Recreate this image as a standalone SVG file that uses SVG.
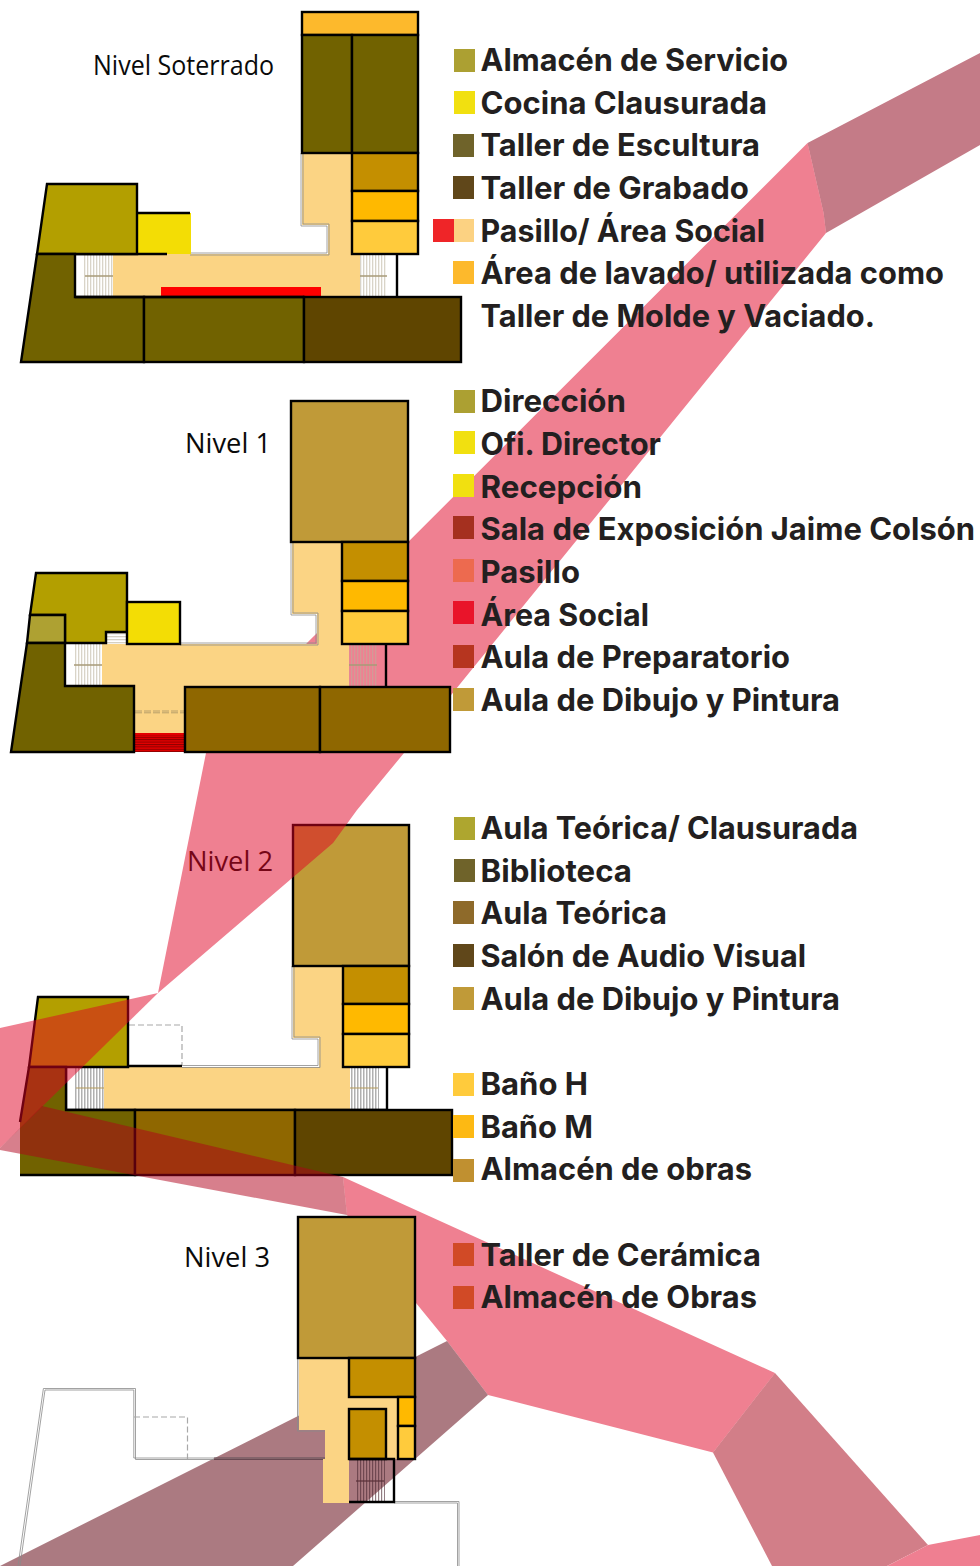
<svg xmlns="http://www.w3.org/2000/svg" width="980" height="1566" viewBox="0 0 980 1566">
<style>
.r{stroke:#000;stroke-width:2.4;stroke-linejoin:miter}
.l{fill:none;stroke:#000;stroke-width:2.4}
.oy{fill:#b39f00}.ol{fill:#716200}.dk{fill:#5f4500}.br{fill:#8f6700}.go{fill:#c09a38}
.a1{fill:#c48f00}.a2{fill:#ffb900}.a3{fill:#ffcb3c}.ye{fill:#f3dd05}.co{fill:#fbd484}.wa{fill:#fdb92c}
.pale{fill:none;stroke:#8a8a8a;stroke-width:.8}
.dash{fill:none;stroke:#a8a8a8;stroke-width:1.2;stroke-dasharray:6 3}
.lv{font-family:"Open Sans","Liberation Sans",sans-serif;font-size:28px;fill:#0a0a0a}
.t{font-family:Inter,"Liberation Sans",sans-serif;font-weight:700;font-size:31px;fill:#231f20}
.mid{stroke:#a89a78;stroke-width:1.4;fill:none}
</style>
<defs>
<pattern id="st" width="3" height="6" patternUnits="userSpaceOnUse"><rect width="1.3" height="6" fill="#b9b09a" fill-opacity=".55"/></pattern>
<pattern id="sg" width="3" height="6" patternUnits="userSpaceOnUse"><rect width="1.5" height="6" fill="#8f8f8f" fill-opacity=".7"/></pattern>
<pattern id="sd" width="3" height="6" patternUnits="userSpaceOnUse"><rect width="1.2" height="6" fill="#4a2630" fill-opacity=".6"/></pattern>
<pattern id="sh" width="6" height="3" patternUnits="userSpaceOnUse"><rect width="6" height="1.3" fill="#b9b09a" fill-opacity=".6"/></pattern>
<pattern id="sr" width="6" height="2.4" patternUnits="userSpaceOnUse"><rect width="6" height="1" fill="#8a0000"/></pattern>
</defs>
<rect width="980" height="1566" fill="#fff"/>

<g id="nivel-2">
<path class="co" d="M293,966V1038H319V1067H104V1109H350V1067H343V966Z"/>
<path class="pale" d="M292,966V1039H318V1065.500H182M294,966V1037H320V1067.500H182"/>
<rect x="75" y="1067" width="29" height="42" fill="url(#sg)"/>
<rect x="350" y="1067" width="29" height="42" fill="url(#sg)"/>
<path d="M76,1088H104M350,1088H378" stroke="#b39a5a" stroke-width="1.2" fill="none"/>
<path class="dash" d="M129,1025H182V1066"/>
<rect class="go r" x="293" y="825" width="116" height="141"/>
<rect class="a1 r" x="343" y="966" width="66" height="38"/>
<rect class="a2 r" x="343" y="1004" width="66" height="30"/>
<rect class="a3 r" x="343" y="1034" width="66" height="33"/>
<path class="oy r" d="M38,997H128V1067H29Z"/>
<path class="l" d="M128,1066H182M66,1067V1110H387M387,1067V1110"/>
<path class="ol" d="M29,1067H66V1110H135V1175H20V1120Z"/>
<path class="l" d="M20,1122L29,1067H66V1110H135V1175H20"/>
<rect class="br r" x="135" y="1110" width="160" height="65"/>
<rect class="dk r" x="295" y="1110" width="157" height="65"/>
<text class="lv" x="187" y="871" textLength="86" lengthAdjust="spacingAndGlyphs">Nivel 2</text>
</g>

<g id="cinta">
<path fill="#c47b87" d="M980,53L807.500,143L823.600,213L826,233L980,145Z"/>
<path fill="#d27e88" d="M775,1373L928,1545L887,1566H772L713,1452.500Z"/>
<path fill="#ef7f91" d="M928,1545L980,1535V1566H887Z"/>
<g fill="#df0123" fill-opacity=".5">
<path d="M807.500,143L823.600,213L826,233L404,753L357,810L333,843L158,993L206,753L307,643Z"/>
<path d="M158,993L0,1028V1148Z"/>
<path d="M343,1177L775,1373L713,1452.500L488,1395L447,1341L416,1303L347,1215Z"/>
</g>
<path fill="#af0019" fill-opacity=".5" d="M0,1148L42,1106L343,1177L347,1215L0,1150Z"/>
<path fill="#88414c" fill-opacity=".7" d="M447,1341L488,1395L293,1566H0L300,1415Z"/>
</g>

<g id="nivel-soterrado">
<path class="co" d="M302,153V225H328V254H113V296H360V254H352V153Z"/>
<path class="pale" d="M301,153V226H327V253H190M303,153V224H329V255H190" stroke="#b8a888"/>
<rect x="84" y="254" width="29" height="42" fill="url(#st)"/>
<rect x="360" y="254" width="27" height="42" fill="url(#st)"/>
<path class="mid" d="M85,276H113M360,276H387"/>
<rect x="161" y="287" width="160" height="9" fill="#f00"/>
<rect class="wa r" x="302" y="12" width="116" height="23"/>
<rect class="ol r" x="302" y="35" width="50" height="118"/>
<rect class="ol r" x="352" y="35" width="66" height="118"/>
<rect class="a1 r" x="352" y="153" width="66" height="38"/>
<rect class="a2 r" x="352" y="191" width="66" height="30"/>
<rect class="a3 r" x="352" y="221" width="66" height="33"/>
<rect class="ye" x="138" y="213" width="53" height="41"/>
<path class="l" d="M137,213H190M75,254H167"/>
<path class="oy r" d="M47,184H137V254H37Z"/>
<path class="ol r" d="M37,254H75V297H144V362H21Z"/>
<rect class="ol r" x="144" y="297" width="160" height="65"/>
<rect class="dk r" x="304" y="297" width="157" height="65"/>
<path class="l" d="M75,297H304M397,254V297"/>
<text class="lv" x="93" y="75" textLength="181" lengthAdjust="spacingAndGlyphs">Nivel Soterrado</text>
</g>

<g id="nivel-1">
<path class="co" d="M292,542V614H317V644H102V686H134V752H185V686H349V644H342V542Z"/>
<path class="pale" d="M291,542V615H316V643H180M293,542V613H318V645H180" stroke="#b8a888"/>
<rect x="74" y="644" width="28" height="42" fill="url(#st)"/>
<rect x="349" y="644" width="29" height="42" fill="url(#st)"/>
<rect x="107" y="632" width="19" height="12" fill="url(#sh)"/>
<path class="mid" d="M74,665H102M349,665H377"/>
<path d="M135,711H185M135,712.800H185" stroke="#b09a68" stroke-width=".9" stroke-dasharray="7 2" fill="none"/>
<rect x="135" y="733" width="50" height="19" fill="#e40000"/>
<rect x="135" y="735" width="50" height="17" fill="url(#sr)"/>
<rect class="go r" x="291" y="401" width="117" height="141"/>
<rect class="a1 r" x="342" y="542" width="66" height="39"/>
<rect class="a2 r" x="342" y="581" width="66" height="30"/>
<rect class="a3 r" x="342" y="611" width="66" height="33"/>
<path class="oy r" d="M36,573H127V632H106V643H65V615H30Z"/>
<path class="r" fill="#aea132" d="M30,615H65V643H27Z"/>
<rect class="ye r" x="127" y="602" width="53" height="42"/>
<path class="ol r" d="M27,643H65V686H134V752H11Z"/>
<rect class="br r" x="185" y="687" width="135" height="65"/>
<rect class="br r" x="320" y="687" width="130" height="65"/>
<path class="l" d="M386,644V687"/>
<text class="lv" x="185" y="453" textLength="86" lengthAdjust="spacingAndGlyphs">Nivel 1</text>
</g>

<g id="nivel-3">
<path class="pale" d="M18,1566L43.400,1388.500H135.500V1459.500H325M20,1566L45,1390H133.800V1458H325"/>
<path d="M214,1458H325M214,1459.500H325" fill="none" stroke="#5e3a44" stroke-width=".8"/>
<path class="dash" d="M134,1417H187.500V1459"/>
<path class="pale" d="M394,1501.500H459V1566M394,1503H457.500V1566"/>
<path class="pale" d="M297.500,1358V1431H325.500V1459.500M299,1358V1429.500H326.500V1459" stroke="#777"/>
<path class="co" d="M299,1358V1430H325V1459H323V1503H349V1459H397V1397H349V1358Z"/>
<rect x="356" y="1459" width="29" height="43" fill="url(#sd)"/>
<path d="M356,1481H384" stroke="#5a3038" stroke-width="1.2" fill="none"/>
<rect class="go r" x="298" y="1217" width="117" height="141"/>
<rect class="a1 r" x="349" y="1358" width="66" height="39"/>
<rect class="a1 r" x="349" y="1409" width="37" height="50"/>
<rect class="a2 r" x="398" y="1397" width="17" height="29"/>
<rect class="a3 r" x="398" y="1426" width="17" height="33"/>
<path class="l" d="M349,1459H394V1502H349"/>
<text class="lv" x="184" y="1267" textLength="86" lengthAdjust="spacingAndGlyphs">Nivel 3</text>
</g>

<g id="leyenda">
<rect x="454" y="49" width="21" height="23" fill="#aca032"/>
<rect x="454" y="91" width="21" height="23" fill="#f1e010"/>
<rect x="453" y="134" width="21" height="23" fill="#6f632a"/>
<rect x="453" y="176" width="21" height="23" fill="#60471a"/>
<rect x="433" y="219" width="21" height="23" fill="#ef2528"/>
<rect x="454" y="219" width="20" height="23" fill="#fcd282"/>
<rect x="453" y="261" width="21" height="23" fill="#fdb92c"/>
<text class="t" x="480.500" y="71" textLength="307.500" lengthAdjust="spacingAndGlyphs">Almacén de Servicio</text>
<text class="t" x="480.500" y="114" textLength="286.500" lengthAdjust="spacingAndGlyphs">Cocina Clausurada</text>
<text class="t" x="480.500" y="156" textLength="279.500" lengthAdjust="spacingAndGlyphs">Taller de Escultura</text>
<text class="t" x="480.500" y="199" textLength="268.500" lengthAdjust="spacingAndGlyphs">Taller de Grabado</text>
<text class="t" x="480.500" y="242" textLength="284.500" lengthAdjust="spacingAndGlyphs">Pasillo/ Área Social</text>
<text class="t" x="480.500" y="284" textLength="463.500" lengthAdjust="spacingAndGlyphs">Área de lavado/ utilizada como</text>
<text class="t" x="480.500" y="327" textLength="394.500" lengthAdjust="spacingAndGlyphs">Taller de Molde y Vaciado.</text>

<rect x="454" y="390" width="21" height="23" fill="#aca032"/>
<rect x="454" y="431" width="21" height="23" fill="#f1e010"/>
<rect x="453" y="474" width="21" height="23" fill="#f1e010"/>
<rect x="453" y="516" width="21" height="23" fill="#a5301f"/>
<rect x="453" y="559" width="21" height="23" fill="#ed6a4f"/>
<rect x="453" y="601" width="21" height="23" fill="#e9142a"/>
<rect x="453" y="645" width="21" height="23" fill="#b6351f"/>
<rect x="453" y="688" width="21" height="23" fill="#c09a38"/>
<text class="t" x="480.500" y="412" textLength="145.500" lengthAdjust="spacingAndGlyphs">Dirección</text>
<text class="t" x="480.500" y="455" textLength="180.500" lengthAdjust="spacingAndGlyphs">Ofi. Director</text>
<text class="t" x="480.500" y="498" textLength="161.500" lengthAdjust="spacingAndGlyphs">Recepción</text>
<text class="t" x="480.500" y="540" textLength="494.500" lengthAdjust="spacingAndGlyphs">Sala de Exposición Jaime Colsón</text>
<text class="t" x="480.500" y="583" textLength="99.500" lengthAdjust="spacingAndGlyphs">Pasillo</text>
<text class="t" x="480.500" y="626" textLength="168.500" lengthAdjust="spacingAndGlyphs">Área Social</text>
<text class="t" x="480.500" y="668" textLength="309.500" lengthAdjust="spacingAndGlyphs">Aula de Preparatorio</text>
<text class="t" x="480.500" y="711" textLength="359.500" lengthAdjust="spacingAndGlyphs">Aula de Dibujo y Pintura</text>

<rect x="454" y="817" width="21" height="23" fill="#aea62f"/>
<rect x="454" y="859" width="21" height="23" fill="#6f632a"/>
<rect x="453" y="901" width="21" height="23" fill="#8e6a2a"/>
<rect x="453" y="944" width="21" height="23" fill="#60471a"/>
<rect x="453" y="987" width="21" height="23" fill="#c09a38"/>
<rect x="453" y="1073" width="21" height="23" fill="#ffcb3c"/>
<rect x="453" y="1115" width="21" height="23" fill="#fdb913"/>
<rect x="453" y="1159" width="21" height="23" fill="#c09030"/>
<rect x="453" y="1243" width="21" height="23" fill="#d14a26"/>
<rect x="453" y="1286" width="21" height="23" fill="#d14a26"/>
<text class="t" x="480.500" y="839" textLength="377.500" lengthAdjust="spacingAndGlyphs">Aula Teórica/ Clausurada</text>
<text class="t" x="480.500" y="882" textLength="151.500" lengthAdjust="spacingAndGlyphs">Biblioteca</text>
<text class="t" x="480.500" y="924" textLength="186.500" lengthAdjust="spacingAndGlyphs">Aula Teórica</text>
<text class="t" x="480.500" y="967" textLength="325.500" lengthAdjust="spacingAndGlyphs">Salón de Audio Visual</text>
<text class="t" x="480.500" y="1010" textLength="359.500" lengthAdjust="spacingAndGlyphs">Aula de Dibujo y Pintura</text>
<text class="t" x="480.500" y="1095" textLength="107.500" lengthAdjust="spacingAndGlyphs">Baño H</text>
<text class="t" x="480.500" y="1138" textLength="112.500" lengthAdjust="spacingAndGlyphs">Baño M</text>
<text class="t" x="480.500" y="1180" textLength="271.500" lengthAdjust="spacingAndGlyphs">Almacén de obras</text>
<text class="t" x="480.500" y="1266" textLength="280.500" lengthAdjust="spacingAndGlyphs">Taller de Cerámica</text>
<text class="t" x="480.500" y="1308" textLength="276.500" lengthAdjust="spacingAndGlyphs">Almacén de Obras</text>
</g>
</svg>
